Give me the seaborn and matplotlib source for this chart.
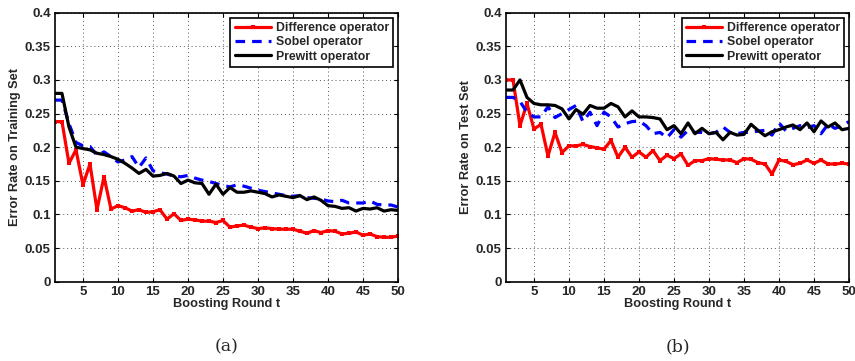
import numpy as np
import pandas as pd
import matplotlib
matplotlib.use("Agg")
import matplotlib.pyplot as plt
import seaborn as sns

rounds = list(range(1, 51))

train_difference = [0.238, 0.238, 0.176, 0.196, 0.144, 0.175, 0.107, 0.156, 0.108, 0.113,
                    0.110, 0.105, 0.107, 0.103, 0.104, 0.107, 0.093, 0.101, 0.091, 0.093,
                    0.092, 0.090, 0.090, 0.088, 0.091, 0.081, 0.083, 0.084, 0.081, 0.079,
                    0.080, 0.079, 0.078, 0.078, 0.078, 0.075, 0.072, 0.076, 0.073, 0.076,
                    0.075, 0.071, 0.072, 0.074, 0.069, 0.071, 0.067, 0.066, 0.066, 0.068]
train_sobel = [0.270, 0.270, 0.235, 0.207, 0.202, 0.201, 0.188, 0.193, 0.186, 0.178,
               0.181, 0.186, 0.170, 0.184, 0.165, 0.162, 0.160, 0.157, 0.156, 0.158,
               0.154, 0.151, 0.149, 0.146, 0.143, 0.141, 0.144, 0.142, 0.139, 0.136,
               0.134, 0.132, 0.130, 0.128, 0.127, 0.128, 0.125, 0.124, 0.123, 0.120,
               0.119, 0.121, 0.117, 0.117, 0.117, 0.120, 0.115, 0.114, 0.114, 0.111]
train_prewitt = [0.280, 0.280, 0.230, 0.200, 0.198, 0.196, 0.191, 0.189, 0.186, 0.182,
                 0.176, 0.169, 0.161, 0.167, 0.157, 0.158, 0.161, 0.157, 0.146, 0.151,
                 0.147, 0.146, 0.130, 0.145, 0.130, 0.140, 0.133, 0.133, 0.135, 0.133,
                 0.131, 0.126, 0.129, 0.127, 0.125, 0.128, 0.122, 0.126, 0.121, 0.113,
                 0.112, 0.109, 0.110, 0.105, 0.109, 0.108, 0.110, 0.105, 0.107, 0.106]

test_difference = [0.300, 0.300, 0.232, 0.265, 0.227, 0.234, 0.187, 0.222, 0.192, 0.202,
                   0.202, 0.204, 0.201, 0.199, 0.197, 0.210, 0.185, 0.200, 0.185, 0.193,
                   0.185, 0.195, 0.180, 0.188, 0.183, 0.190, 0.173, 0.180, 0.180, 0.183,
                   0.182, 0.181, 0.181, 0.177, 0.183, 0.182, 0.177, 0.175, 0.160, 0.181,
                   0.179, 0.174, 0.176, 0.181, 0.176, 0.181, 0.175, 0.175, 0.176, 0.175]
test_sobel = [0.274, 0.274, 0.268, 0.252, 0.245, 0.245, 0.260, 0.244, 0.250, 0.256,
              0.262, 0.238, 0.252, 0.232, 0.252, 0.245, 0.230, 0.235, 0.238, 0.239,
              0.232, 0.220, 0.222, 0.214, 0.226, 0.215, 0.225, 0.222, 0.222, 0.220,
              0.222, 0.230, 0.222, 0.220, 0.222, 0.222, 0.224, 0.225, 0.218, 0.236,
              0.224, 0.228, 0.232, 0.229, 0.232, 0.220, 0.234, 0.228, 0.232, 0.238]
test_prewitt = [0.285, 0.285, 0.300, 0.274, 0.265, 0.263, 0.263, 0.262, 0.257, 0.242,
                0.256, 0.249, 0.262, 0.258, 0.258, 0.265, 0.260, 0.245, 0.254, 0.245,
                0.245, 0.244, 0.242, 0.226, 0.232, 0.220, 0.236, 0.220, 0.228, 0.220,
                0.222, 0.211, 0.222, 0.218, 0.219, 0.234, 0.225, 0.217, 0.223, 0.226,
                0.230, 0.233, 0.226, 0.236, 0.223, 0.239, 0.230, 0.236, 0.226, 0.228]

series_labels = ["Difference operator", "Sobel operator", "Prewitt operator"]
y_labels = ["Error Rate on Training Set", "Error Rate on Test Set"]
x_label = "Boosting Round t"
captions = ["(a)", "(b)"]
x_ticks = [5, 10, 15, 20, 25, 30, 35, 40, 45, 50]
y_ticks = [0, 0.05, 0.1, 0.15, 0.2, 0.25, 0.3, 0.35, 0.4]
y_tick_labels = ["0", "0.05", "0.1", "0.15", "0.2", "0.25", "0.3", "0.35", "0.4"]

sns.set_theme(style="white")
plt.rcParams['font.family'] = ['Liberation Sans', 'DejaVu Sans']
plt.rcParams['font.weight'] = 'bold'

fig = plt.figure(figsize=(8.55, 3.61), dpi=100)
ax_pos = [[0.0643, 0.2197, 0.4012, 0.7452], [0.5918, 0.2197, 0.4012, 0.7452]]
panels = [(train_difference, train_sobel, train_prewitt), (test_difference, test_sobel, test_prewitt)]

for i, (diff, sob, prew) in enumerate(panels):
    ax = fig.add_axes(ax_pos[i])
    df = pd.DataFrame({"t": rounds, "diff": diff, "sob": sob, "prew": prew})
    sns.lineplot(data=df, x="t", y="diff", ax=ax, color="#ff0000", lw=2.3,
                 marker="s", markersize=3.4, markeredgewidth=0, label=series_labels[0])
    sns.lineplot(data=df, x="t", y="sob", ax=ax, color="#0000ff", lw=2.3,
                 label=series_labels[1])
    ax.lines[-1].set_dashes([3, 2.2])
    sns.lineplot(data=df, x="t", y="prew", ax=ax, color="black", lw=2.3,
                 label=series_labels[2])
    ax.set_xlim(1, 50)
    ax.set_ylim(0, 0.4)
    ax.set_xticks(x_ticks)
    ax.set_yticks(y_ticks)
    ax.set_yticklabels(y_tick_labels)
    ax.grid(True, linestyle=(0, (1, 3)), color="#555555", linewidth=0.7)
    ax.tick_params(axis="both", direction="in", length=3, width=0.8, labelsize=9.5,
                   top=True, right=True, bottom=True, left=True, pad=3, color="black")
    for lab in ax.get_xticklabels() + ax.get_yticklabels():
        lab.set_fontweight("bold")
    for sp in ax.spines.values():
        sp.set_visible(True)
        sp.set_color("black")
        sp.set_linewidth(1.2)
    ax.set_xlabel(x_label, fontsize=9.2, fontweight="bold", labelpad=0)
    ax.set_ylabel(y_labels[i], fontsize=9.2, fontweight="bold", labelpad=3)
    leg = ax.legend(loc="upper right", frameon=True, fancybox=False,
                    handlelength=3.0, handletextpad=0.35, borderpad=0.35, labelspacing=0.2,
                    borderaxespad=0.4, edgecolor="black", framealpha=1,
                    prop={"weight": "bold", "size": 8.8})
    leg.get_frame().set_linewidth(1.2)
    cx = ax_pos[i][0] + ax_pos[i][2] / 2
    fig.text(cx, 0.04, captions[i], ha="center", va="center", fontsize=12.5,
             family=["DejaVu Serif"], fontweight="normal")

fig.savefig("out.png", dpi=100)
